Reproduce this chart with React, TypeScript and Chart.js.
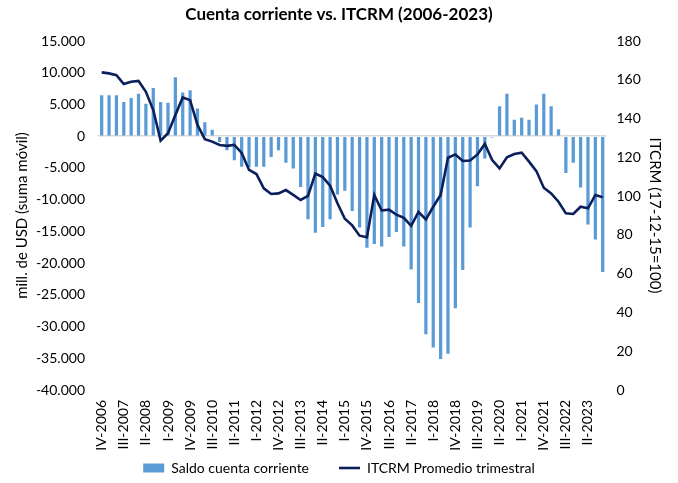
import React, { useEffect, useRef } from 'react';
import { Chart, registerables } from 'chart.js';

Chart.register(...registerables);

const categories = [
  'IV-2006',
  'I-2007', 'II-2007', 'III-2007', 'IV-2007',
  'I-2008', 'II-2008', 'III-2008', 'IV-2008',
  'I-2009', 'II-2009', 'III-2009', 'IV-2009',
  'I-2010', 'II-2010', 'III-2010', 'IV-2010',
  'I-2011', 'II-2011', 'III-2011', 'IV-2011',
  'I-2012', 'II-2012', 'III-2012', 'IV-2012',
  'I-2013', 'II-2013', 'III-2013', 'IV-2013',
  'I-2014', 'II-2014', 'III-2014', 'IV-2014',
  'I-2015', 'II-2015', 'III-2015', 'IV-2015',
  'I-2016', 'II-2016', 'III-2016', 'IV-2016',
  'I-2017', 'II-2017', 'III-2017', 'IV-2017',
  'I-2018', 'II-2018', 'III-2018', 'IV-2018',
  'I-2019', 'II-2019', 'III-2019', 'IV-2019',
  'I-2020', 'II-2020', 'III-2020', 'IV-2020',
  'I-2021', 'II-2021', 'III-2021', 'IV-2021',
  'I-2022', 'II-2022', 'III-2022', 'IV-2022',
  'I-2023', 'II-2023', 'III-2023', 'IV-2023',
];

// Saldo cuenta corriente, mill. de USD (suma móvil)
const saldoCuentaCorriente = [
  6450,
  6450, 6450, 5400, 6000,
  6700, 5100, 7600, 5400,
  5250, 9300, 6900, 7250,
  4350, 2200, 1000, -900,
  -2200, -3800, -4800, -4900,
  -4800, -4800, -3300, -2200,
  -4200, -5100, -8000, -13100,
  -15200, -14300, -13100, -9200,
  -8600, -11800, -14400, -17600,
  -17000, -17400, -15900, -15100,
  -17400, -21000, -26300, -31200,
  -33300, -35100, -34300, -27100,
  -21100, -14400, -7900, -3500,
  -200, 4700, 6700, 2600,
  2900, 2600, 5000, 6700,
  4700, 1100, -5800, -4200,
  -8100, -13900, -16300, -21400,
];

// ITCRM Promedio trimestral (17-12-15=100)
const itcrmPromedio = [
  163.8,
  163.3, 162.4, 157.8, 159.0,
  159.4, 153.8, 144.4, 128.6,
  132.4, 141.8, 150.9, 149.5,
  136.7, 129.4, 128.1, 126.4,
  125.9, 126.4, 122.3, 113.5,
  111.4, 104.0, 101.1, 101.4,
  103.1, 100.6, 98.0, 100.1,
  111.6, 109.8, 105.4, 96.3,
  88.3, 84.9, 79.6, 78.8,
  100.6, 92.6, 93.0, 90.4,
  88.8, 84.7, 91.8, 88.0,
  94.5, 100.6, 119.8, 121.5,
  118.1, 118.4, 121.5, 126.9,
  118.6, 114.3, 120.0, 121.7,
  122.4, 117.8, 112.9, 104.3,
  101.4, 97.1, 91.1, 90.8,
  94.5, 93.7, 100.6, 99.4,
];

const leftTicks = { min: -40000, max: 15000, step: 5000 };
const rightTicks = { min: 0, max: 180, step: 20 };

const BAR_COLOR = '#5B9BD5';
const LINE_COLOR = '#0B1F5C';
const FONT = 'Lato, "Open Sans", "Liberation Sans", sans-serif';
const LEGEND_PAD = 30;
const LEGEND_FONT = 14;
const LEGEND_ITEM_TOP = 461;
const PLOT_BOTTOM = 390;

function formatThousands(v: number): string {
  const s = Math.round(Math.abs(v)).toString().replace(/\B(?=(\d{3})+(?!\d))/g, '.');
  return (v < 0 ? '-' : '') + s;
}

const layoutTweaks = {
  id: 'layoutTweaks',
  afterLayout(chart: any) {
    const x = chart.scales.x;
    if (x) {
      x.bottom = chart.height;
      x.height = x.bottom - x.top;
    }
    const lg = chart.legend;
    if (lg) {
      const shift = LEGEND_ITEM_TOP - LEGEND_PAD - lg.top;
      lg.top += shift;
      lg.bottom += shift;
    }
  },
};

export default function App() {
  const canvasRef = useRef<HTMLCanvasElement | null>(null);

  useEffect(() => {
    document.body.style.margin = '0';
    const canvas = canvasRef.current;
    if (!canvas) return;
    const legendHeight = LEGEND_FONT + LEGEND_PAD + 10;
    const chart = new Chart(canvas, {
      type: 'bar',
      data: {
        labels: categories,
        datasets: [
          {
            type: 'bar',
            label: 'Saldo cuenta corriente',
            data: saldoCuentaCorriente,
            backgroundColor: BAR_COLOR,
            borderWidth: 0,
            yAxisID: 'y',
            barPercentage: 0.44,
            categoryPercentage: 1,
            order: 1,
          },
          {
            type: 'line',
            label: 'ITCRM Promedio trimestral',
            data: itcrmPromedio,
            borderColor: LINE_COLOR,
            backgroundColor: LINE_COLOR,
            borderWidth: 2.6,
            pointRadius: 0,
            tension: 0,
            yAxisID: 'y1',
            order: 0,
          },
        ],
      } as any,
      plugins: [layoutTweaks],
      options: {
        animation: false,
        responsive: false,
        maintainAspectRatio: false,
        layout: { padding: { left: 0, right: 0, top: 0, bottom: 0 } },
        plugins: {
          title: {
            display: true,
            text: 'Cuenta corriente vs. ITCRM (2006-2023)',
            color: '#000000',
            font: { family: FONT, size: 17, weight: 'bold' },
            padding: { top: 4, bottom: 16.6 },
          },
          legend: {
            position: 'bottom',
            labels: {
              usePointStyle: true,
              pointStyleWidth: 21,
              boxHeight: 9,
              padding: LEGEND_PAD,
              color: '#000000',
              font: { family: FONT, size: LEGEND_FONT },
              generateLabels: (ch: any) => {
                const items = Chart.defaults.plugins.legend.labels.generateLabels(ch);
                items.sort((a: any, b: any) => a.datasetIndex - b.datasetIndex);
                return items.map((it: any) => {
                  if (it.datasetIndex === 0) {
                    return { ...it, pointStyle: 'rect', fillStyle: BAR_COLOR, strokeStyle: BAR_COLOR, lineWidth: 0 };
                  }
                  return { ...it, pointStyle: 'line', fillStyle: LINE_COLOR, strokeStyle: LINE_COLOR, lineWidth: 2.6 };
                });
              },
            },
          },
          tooltip: { enabled: false },
        },
        scales: {
          x: {
            grid: { display: false, drawTicks: false },
            border: { display: false },
            ticks: {
              autoSkip: false,
              maxRotation: 90,
              minRotation: 90,
              padding: 10,
              color: '#000000',
              font: { family: FONT, size: 14 },
              callback: (_v: any, i: number) => (i % 3 === 0 ? categories[i] : ''),
            },
            afterFit: (s: any) => {
              s.height = 483 - PLOT_BOTTOM - legendHeight;
            },
          },
          y: {
            position: 'left',
            min: leftTicks.min,
            max: leftTicks.max,
            ticks: {
              stepSize: leftTicks.step,
              padding: 13,
              color: '#000000',
              font: { family: FONT, size: 14 },
              callback: (v: any) => formatThousands(Number(v)),
            },
            grid: {
              drawTicks: false,
              color: (ctx: any) => (ctx.tick && ctx.tick.value === 0 ? '#D9D9D9' : 'rgba(0,0,0,0)'),
              lineWidth: 1.5,
            },
            border: { display: false },
            title: {
              display: true,
              text: 'mill. de USD (suma móvil)',
              color: '#000000',
              font: { family: FONT, size: 15 },
              padding: { top: 13, bottom: 0 },
            },
            afterFit: (s: any) => {
              s.width = 98;
            },
          },
          y1: {
            position: 'right',
            min: rightTicks.min,
            max: rightTicks.max,
            ticks: {
              stepSize: rightTicks.step,
              padding: 10,
              color: '#000000',
              font: { family: FONT, size: 14 },
            },
            grid: { display: false, drawTicks: false },
            border: { display: false },
            title: {
              display: true,
              text: 'ITCRM (17-12-15=100)',
              color: '#000000',
              font: { family: FONT, size: 15 },
              padding: { top: 14, bottom: 0 },
            },
            afterFit: (s: any) => {
              s.width = 71.6;
            },
          },
        },
      } as any,
    });
    return () => chart.destroy();
  }, []);

  return (
    <div style={{ width: 678, height: 483, background: '#ffffff' }}>
      <canvas ref={canvasRef} width={678} height={483} style={{ display: 'block' }} />
    </div>
  );
}
